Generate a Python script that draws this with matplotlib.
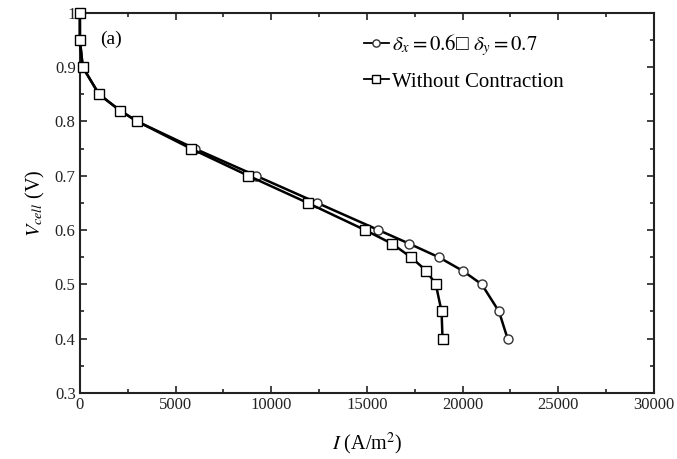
import matplotlib
matplotlib.use("Agg")
import matplotlib.pyplot as plt
from matplotlib.ticker import MultipleLocator

plt.rcParams['font.family'] = ['Liberation Serif', 'DejaVu Serif']
plt.rcParams['mathtext.fontset'] = 'stix'

# data
i_contraction = [0, 0, 150, 1000, 2100, 3000, 6000, 9200, 12400, 15600, 17200, 18750, 20000, 21000, 21900, 22350]
v_contraction = [1.0, 0.95, 0.9, 0.85, 0.82, 0.8, 0.75, 0.7, 0.65, 0.6, 0.575, 0.55, 0.525, 0.5, 0.45, 0.4]

i_plain = [0, 0, 150, 1000, 2100, 3000, 5800, 8800, 11900, 14900, 16300, 17300, 18100, 18600, 18900, 18950]
v_plain = [1.0, 0.95, 0.9, 0.85, 0.82, 0.8, 0.75, 0.7, 0.65, 0.6, 0.575, 0.55, 0.525, 0.5, 0.45, 0.4]

label_contraction = r"$\delta_x = 0.6$□ $\delta_y = 0.7$"
label_plain = "Without Contraction"

fig = plt.figure(figsize=(6.77, 4.59), dpi=100)
ax = fig.add_axes([0.118, 0.144, 0.848, 0.828])

ax.plot(i_contraction, v_contraction, color='black', lw=1.8, marker='o', ms=6.5,
        mfc='white', mec='#333333', mew=1.0, label=label_contraction, clip_on=False, zorder=3)
ax.plot(i_plain, v_plain, color='black', lw=1.8, marker='s', ms=6.5,
        mfc='white', mec='black', mew=1.0, label=label_plain, clip_on=False, zorder=4)

ax.set_xlim(0, 30000)
ax.set_ylim(0.3, 1.0)
ax.xaxis.set_major_locator(MultipleLocator(5000))
ax.xaxis.set_minor_locator(MultipleLocator(2500))
ax.yaxis.set_minor_locator(MultipleLocator(0.05))
ax.set_yticks([0.3, 0.4, 0.5, 0.6, 0.7, 0.8, 0.9, 1.0])
ax.set_yticklabels(['0.3', '0.4', '0.5', '0.6', '0.7', '0.8', '0.9', '1'])

ax.tick_params(which='both', direction='in', top=True, right=True, labelsize=12,
               colors='#222222', width=1.2)
ax.tick_params(which='major', length=5, pad=3)
ax.tick_params(which='minor', length=3)
for sp in ax.spines.values():
    sp.set_linewidth(1.5)
    sp.set_color('#222222')

ax.set_xlabel(r"$I$ (A/m$^2$)", fontsize=14.5, labelpad=13)
ax.set_ylabel(r"$V_{cell}$ (V)", fontsize=14.5, labelpad=6)

ax.text(0.035, 0.93, "(a)", transform=ax.transAxes, fontsize=14, va='center', ha='left')

leg = ax.legend(loc='upper left', bbox_to_anchor=(0.48, 0.97), frameon=False, fontsize=15,
                handlelength=1.2, handletextpad=0.15, labelspacing=0.65, borderaxespad=0,
                markerscale=0.8)
for h in leg.get_lines():
    h.set_linewidth(1.3)

fig.savefig("out.png", dpi=100)
